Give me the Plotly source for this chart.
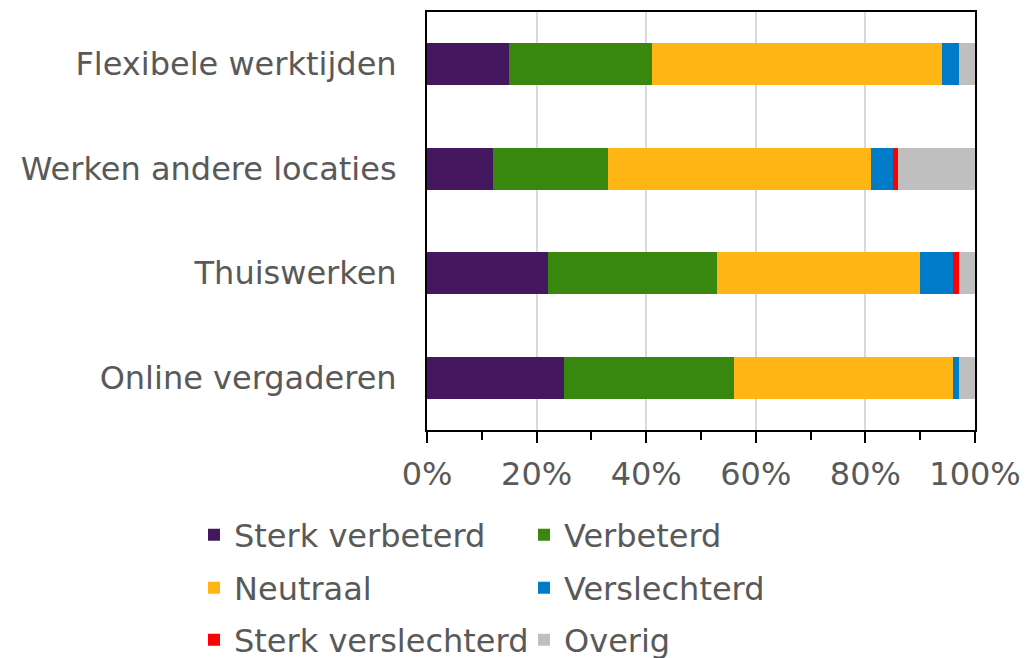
import plotly.graph_objects as go

# Werkvormen (bottom-to-top order on the y axis)
categories = ["Online vergaderen", "Thuiswerken", "Werken andere locaties", "Flexibele werktijden"]

# Share per answer category, in percent
sterk_verbeterd = [25, 22, 12, 15]
verbeterd = [31, 31, 21, 26]
neutraal = [40, 37, 48, 53]
verslechterd = [1, 6, 4, 3]
sterk_verslechterd = [0, 1, 1, 0]
overig = [3, 3, 14, 3]

series = [
    ("Sterk verbeterd", sterk_verbeterd, "#44175E", "legend"),
    ("Verbeterd", verbeterd, "#38870E", "legend"),
    ("Neutraal", neutraal, "#FFB614", "legend2"),
    ("Verslechterd", verslechterd, "#007BC7", "legend2"),
    ("Sterk verslechterd", sterk_verslechterd, "#FF0000", "legend3"),
    ("Overig", overig, "#BFBFBF", "legend3"),
]

tick_vals = [0, 20, 40, 60, 80, 100]
tick_text = ["0%", "20%", "40%", "60%", "80%", "100%"]

FONT = "DejaVu Sans"
TEXT = "#595959"
FS = 32
W, H = 1028, 658
L, R, T, B = 427, 53, 12, 228
PW, PH = W - L - R, H - T - B


def px_x(x):
    return (x - L) / PW


def px_y(y):
    return (H - B - y) / PH


fig = go.Figure()
for name, vals, color, leg in series:
    fig.add_trace(go.Bar(
        y=categories, x=vals, name=name, orientation="h",
        marker=dict(color=color, line=dict(width=0)),
        legend=leg,
    ))

legend_common = dict(
    orientation="h", xref="paper", yref="paper",
    x=px_x(194), xanchor="left", yanchor="middle",
    font=dict(family=FONT, size=FS, color=TEXT),
    entrywidth=285, entrywidthmode="pixels",
    bgcolor="rgba(0,0,0,0)", borderwidth=0,
    traceorder="normal",
)

fig.update_layout(
    width=W, height=H,
    margin=dict(l=L, r=R, t=T, b=B, autoexpand=False),
    barmode="stack", bargap=0.6,
    plot_bgcolor="white", paper_bgcolor="white",
    font=dict(family=FONT, size=FS, color=TEXT),
    showlegend=True,
    legend=dict(legend_common, y=px_y(535)),
    legend2=dict(legend_common, y=px_y(588)),
    legend3=dict(legend_common, y=px_y(640)),
    xaxis=dict(
        range=[0, 100], tickvals=tick_vals, ticktext=tick_text,
        showgrid=True, gridcolor="#D9D9D9", gridwidth=1.5,
        showline=True, linecolor="black", linewidth=2, mirror=True,
        ticks="outside", ticklen=11, tickwidth=2, tickcolor="black",
        minor=dict(dtick=10, ticks="outside", ticklen=8, tickwidth=2,
                   tickcolor="black", showgrid=False),
        tickfont=dict(family=FONT, size=FS, color=TEXT),
        ticklabelstandoff=4,
        zeroline=False, fixedrange=True,
    ),
    yaxis=dict(
        showline=True, linecolor="black", linewidth=2, mirror=True,
        ticks="", ticklabelstandoff=22,
        tickfont=dict(family=FONT, size=FS, color=TEXT),
        fixedrange=True,
    ),
)

fig.write_html("out.html")
